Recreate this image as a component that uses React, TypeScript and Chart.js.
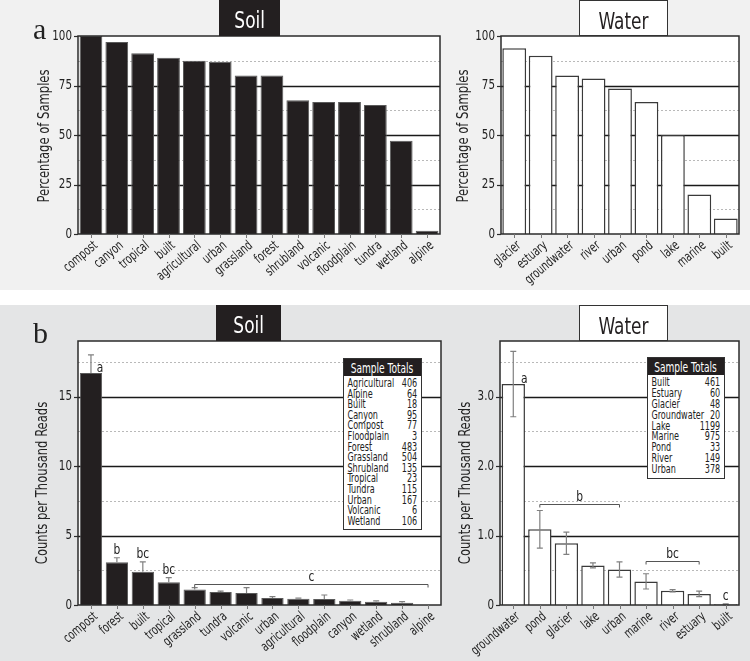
import React, { useEffect, useRef } from 'react';
import { Chart, registerables } from 'chart.js';
Chart.register(...registerables);

const NARROW = '"Liberation Sans Narrow", "DejaVu Sans Condensed", "Open Sans", sans-serif';
const SX = 0.78; // horizontal compression to mimic a condensed face

// ---------- Panel a: percentage of samples ----------
const soilACategories = ['compost', 'canyon', 'tropical', 'built', 'agricultural', 'urban', 'grassland', 'forest', 'shrubland', 'volcanic', 'floodplain', 'tundra', 'wetland', 'alpine'];
const soilAValues = [100, 97, 91.3, 89, 87.5, 87, 80, 80, 67.5, 66.7, 66.7, 65.2, 47.1, 1.6];
const waterACategories = ['glacier', 'estuary', 'groundwater', 'river', 'urban', 'pond', 'lake', 'marine', 'built'];
const waterAValues = [93.8, 90, 80, 78.5, 73.5, 66.7, 50, 20, 7.8];
const percentTicks = [0, 25, 50, 75, 100];

// ---------- Panel b: counts per thousand reads ----------
const soilBCategories = ['compost', 'forest', 'built', 'tropical', 'grassland', 'tundra', 'volcanic', 'urban', 'agricultural', 'floodplain', 'canyon', 'wetland', 'shrubland', 'alpine'];
const soilBValues = [16.7, 3.07, 2.4, 1.63, 1.12, 0.93, 0.86, 0.5, 0.45, 0.43, 0.31, 0.24, 0.16, 0];
const soilBErrors = [1.3, 0.33, 0.7, 0.34, 0.13, 0.07, 0.39, 0.1, 0.05, 0.29, 0.05, 0.06, 0.08, 0];
const soilBLetters = ['a', 'b', 'bc', 'bc', '', '', '', '', '', '', '', '', '', ''];
const soilBBrackets = [{ from: 4, to: 13, level: 1.54, label: 'c' }];
const soilBTicks = [0, 5, 10, 15];

const waterBCategories = ['groundwater', 'pond', 'glacier', 'lake', 'urban', 'marine', 'river', 'estuary', 'built'];
const waterBValues = [3.18, 1.09, 0.89, 0.57, 0.51, 0.34, 0.205, 0.16, 0.01];
const waterBErrors = [0.47, 0.27, 0.16, 0.035, 0.11, 0.11, 0.015, 0.04, 0.005];
const waterBLetters = ['a', '', '', '', '', '', '', '', 'c'];
const waterBBrackets = [
  { from: 1, to: 4, level: 1.45, label: 'b' },
  { from: 5, to: 7, level: 0.64, label: 'bc' },
];
const waterBTicks = [0, 1, 2, 3];

// ---------- Sample totals ----------
const soilTotalNames = ['Agricultural', 'Alpine', 'Built', 'Canyon', 'Compost', 'Floodplain', 'Forest', 'Grassland', 'Shrubland', 'Tropical', 'Tundra', 'Urban', 'Volcanic', 'Wetland'];
const soilTotalCounts = [406, 64, 18, 95, 77, 3, 483, 504, 135, 23, 115, 167, 6, 106];
const waterTotalNames = ['Built', 'Estuary', 'Glacier', 'Groundwater', 'Lake', 'Marine', 'Pond', 'River', 'Urban'];
const waterTotalCounts = [461, 60, 48, 20, 1199, 975, 33, 149, 378];

type Bracket = { from: number; to: number; level: number; label: string };
interface Spec {
  left: number; top: number; width: number; height: number;
  plotLeft: number; plotTop: number; plotRight: number; plotBottom: number;
  categories: string[]; values: number[];
  errors?: number[]; errorBoth?: boolean;
  yMax: number; major: number; minor: number; yTicks: number[]; fmt: (v: number) => string;
  fill: string; border: string; borderWidth: number; barPct: number;
  yTitle: string; yTitleX: number; yTitleY: number;
  letters?: string[]; brackets?: Bracket[];
}

function squeezeText(ctx: any, text: string, x: number, y: number, rot: number, align: string, base: string, sx: number) {
  ctx.save();
  ctx.translate(x, y);
  if (rot) ctx.rotate(rot);
  ctx.scale(sx, 1);
  ctx.textAlign = align;
  ctx.textBaseline = base;
  ctx.fillText(text, 0, 0);
  ctx.restore();
}

function makeDecor(s: Spec) {
  return {
    id: 'decor',
    beforeDraw(chart: any) {
      const { ctx, chartArea: a } = chart;
      ctx.save();
      ctx.fillStyle = '#ffffff';
      ctx.fillRect(a.left, a.top, a.right - a.left, a.bottom - a.top);
      ctx.restore();
    },
    beforeDatasetsDraw(chart: any) {
      const { ctx, chartArea: a } = chart;
      const y = chart.scales.y;
      ctx.save();
      const n = Math.round(s.yMax / s.minor);
      for (let k = 1; k <= n; k++) {
        const v = k * s.minor;
        if (v >= s.yMax - 1e-9) continue;
        const r = v / s.major;
        const isMajor = Math.abs(r - Math.round(r)) < 1e-6;
        const py = Math.round(y.getPixelForValue(v)) + 0.5;
        if (isMajor) {
          ctx.strokeStyle = '#1a1a1a'; ctx.lineWidth = 1.3; ctx.setLineDash([]);
        } else {
          ctx.strokeStyle = '#a8a8a8'; ctx.lineWidth = 0.8; ctx.setLineDash([2, 2]);
        }
        ctx.beginPath(); ctx.moveTo(a.left, py); ctx.lineTo(a.right, py); ctx.stroke();
      }
      ctx.restore();
    },
    afterDatasetsDraw(chart: any) {
      const { ctx, chartArea: a } = chart;
      const y = chart.scales.y;
      const x = chart.scales.x;
      const meta = chart.getDatasetMeta(0);
      ctx.save();
      // error bars
      if (s.errors) {
        ctx.strokeStyle = '#808080'; ctx.lineWidth = 1.2; ctx.setLineDash([]);
        s.errors.forEach((e, i) => {
          if (!e) return;
          const bx = meta.data[i].x;
          const v = s.values[i];
          const t = y.getPixelForValue(v + e);
          const b = s.errorBoth ? y.getPixelForValue(v - e) : y.getPixelForValue(v);
          const cap = 3;
          ctx.beginPath();
          ctx.moveTo(bx, t); ctx.lineTo(bx, b);
          ctx.moveTo(bx - cap, t); ctx.lineTo(bx + cap, t);
          if (s.errorBoth) { ctx.moveTo(bx - cap, b); ctx.lineTo(bx + cap, b); }
          ctx.stroke();
        });
      }
      // frame
      ctx.strokeStyle = '#2b2b2b'; ctx.lineWidth = 1.5;
      ctx.strokeRect(a.left, a.top, a.right - a.left, a.bottom - a.top);
      // y ticks
      ctx.lineWidth = 1.2;
      s.yTicks.forEach((v) => {
        const py = Math.round(y.getPixelForValue(v)) + 0.5;
        ctx.beginPath(); ctx.moveTo(a.left - 4, py); ctx.lineTo(a.left, py); ctx.stroke();
      });
      // x ticks
      ctx.strokeStyle = '#777'; ctx.lineWidth = 1;
      s.categories.forEach((_c, i) => {
        const px = Math.round(x.getPixelForValue(i)) + 0.5;
        ctx.beginPath(); ctx.moveTo(px, a.bottom); ctx.lineTo(px, a.bottom + 4); ctx.stroke();
      });
      // significance letters
      ctx.fillStyle = '#222';
      ctx.font = `14px ${NARROW}`;
      if (s.letters) {
        s.letters.forEach((l, i) => {
          if (!l) return;
          const bx = meta.data[i].x;
          const v = s.values[i];
          const e = s.errors ? s.errors[i] : 0;
          if (i === 0) {
            squeezeText(ctx, l, bx + (s.errorBoth ? 11 : 9), y.getPixelForValue(v) - 1, 0, 'center', 'alphabetic', 0.85);
          } else {
            squeezeText(ctx, l, bx, y.getPixelForValue(v + e) - 4, 0, 'center', 'alphabetic', 0.85);
          }
        });
      }
      if (s.brackets) {
        ctx.strokeStyle = '#555'; ctx.lineWidth = 1;
        s.brackets.forEach((br) => {
          const x1 = meta.data[br.from].x;
          const x2 = meta.data[br.to].x;
          const py = Math.round(y.getPixelForValue(br.level)) + 0.5;
          ctx.beginPath();
          ctx.moveTo(x1, py + 3); ctx.lineTo(x1, py); ctx.lineTo(x2, py); ctx.lineTo(x2, py + 3);
          ctx.stroke();
          squeezeText(ctx, br.label, (x1 + x2) / 2, py - 4, 0, 'center', 'alphabetic', 0.85);
        });
      }
      ctx.restore();
    },
    afterDraw(chart: any) {
      const { ctx, chartArea: a } = chart;
      const y = chart.scales.y;
      const x = chart.scales.x;
      ctx.save();
      ctx.fillStyle = '#222';
      // y tick labels
      ctx.font = `13.5px ${NARROW}`;
      s.yTicks.forEach((v) => {
        squeezeText(ctx, s.fmt(v), a.left - 6, y.getPixelForValue(v), 0, 'right', 'middle', 0.85);
      });
      // x tick labels (rotated)
      ctx.font = `13.5px ${NARROW}`;
      s.categories.forEach((c, i) => {
        const px = x.getPixelForValue(i);
        squeezeText(ctx, c, px + 5, a.bottom + 10, -40 * Math.PI / 180, 'right', 'middle', 0.76);
      });
      // y title
      ctx.font = `16.5px ${NARROW}`;
      squeezeText(ctx, s.yTitle, s.yTitleX - s.left, s.yTitleY - s.top, -Math.PI / 2, 'center', 'middle', SX);
      ctx.restore();
    },
  };
}

function BarPanel({ spec }: { spec: Spec }) {
  const ref = useRef<HTMLCanvasElement | null>(null);
  useEffect(() => {
    const s = spec;
    const chart = new Chart(ref.current as HTMLCanvasElement, {
      type: 'bar',
      data: {
        labels: s.categories,
        datasets: [{
          data: s.values,
          backgroundColor: s.fill,
          borderColor: s.border,
          borderWidth: s.borderWidth,
          barPercentage: s.barPct,
          categoryPercentage: 1,
        }],
      },
      options: {
        responsive: false,
        animation: false,
        events: [],
        layout: { padding: { top: s.plotTop - s.top, right: s.left + s.width - s.plotRight, left: 0, bottom: 0 } },
        plugins: { legend: { display: false }, tooltip: { enabled: false } },
        scales: {
          x: {
            grid: { display: false, drawTicks: false },
            border: { display: false },
            ticks: { display: false },
            afterFit: (sc: any) => { sc.height = s.top + s.height - s.plotBottom; },
          },
          y: {
            min: 0, max: s.yMax,
            grid: { display: false, drawTicks: false },
            border: { display: false },
            ticks: { display: false, stepSize: s.major, includeBounds: false },
            afterFit: (sc: any) => { sc.width = s.plotLeft - s.left; },
          },
        },
      },
      plugins: [makeDecor(s)],
    } as any);
    return () => chart.destroy();
  }, [spec]);
  return (
    <canvas
      ref={ref}
      width={spec.width}
      height={spec.height}
      style={{ position: 'absolute', left: spec.left, top: spec.top, width: spec.width, height: spec.height }}
    />
  );
}

function Totals({ left, top, width, rowH, names, counts }: { left: number; top: number; width: number; rowH: number; names: string[]; counts: number[] }) {
  const k = 0.7;
  const innerW = width - 3;
  return (
    <div style={{ position: 'absolute', left, top, width, background: '#fff', border: '1.5px solid #333', boxSizing: 'border-box', fontFamily: NARROW, color: '#222', overflow: 'hidden' }}>
      <div style={{ background: '#231f20', height: 17, position: 'relative' }}>
        <div style={{ position: 'absolute', left: 0, top: 0, width: innerW / 0.72, transform: 'scaleX(0.72)', transformOrigin: 'left top', color: '#fff', fontSize: 14, lineHeight: '18px', textAlign: 'center', whiteSpace: 'nowrap' }}>Sample Totals</div>
      </div>
      <div style={{ padding: '2px 0 3px 0', height: names.length * rowH, position: 'relative', boxSizing: 'content-box' }}>
        <div style={{ position: 'absolute', left: 0, top: 2, width: innerW / k, transform: `scaleX(${k})`, transformOrigin: 'left top', padding: '0 4px 0 5px', boxSizing: 'border-box' }}>
          {names.map((n, i) => (
            <div key={n} style={{ display: 'flex', justifyContent: 'space-between', fontSize: 12.8, height: rowH, lineHeight: `${rowH}px`, whiteSpace: 'nowrap' }}>
              <span>{n}</span><span>{counts[i]}</span>
            </div>
          ))}
        </div>
      </div>
    </div>
  );
}

function TitleBox({ left, top, width, text, dark }: { left: number; top: number; width: number; text: string; dark: boolean }) {
  return (
    <div style={{
      position: 'absolute', left, top, width, height: 36, boxSizing: 'border-box',
      background: dark ? '#231f20' : '#fff', color: dark ? '#fff' : '#231f20',
      border: dark ? 'none' : '1.5px solid #333',
      fontFamily: NARROW, fontSize: 23, textAlign: 'center', lineHeight: '40px',
    }}>
      <span style={{ display: 'inline-block', transform: 'scaleX(0.82)' }}>{text}</span>
    </div>
  );
}

const intFmt = (v: number) => (percentTicks.includes(v) ? String(v) : '');

const specs: Spec[] = [
  {
    left: 0, top: 0, width: 450, height: 290, plotLeft: 78, plotTop: 36, plotRight: 440, plotBottom: 234,
    categories: soilACategories, values: soilAValues, yMax: 100, major: 25, minor: 12.5, yTicks: percentTicks, fmt: intFmt,
    fill: '#231f20', border: '#5a5a5a', borderWidth: 1, barPct: 0.88,
    yTitle: 'Percentage of Samples', yTitleX: 45, yTitleY: 136,
  },
  {
    left: 450, top: 0, width: 300, height: 290, plotLeft: 501, plotTop: 36, plotRight: 739, plotBottom: 234,
    categories: waterACategories, values: waterAValues, yMax: 100, major: 25, minor: 12.5, yTicks: percentTicks, fmt: intFmt,
    fill: '#ffffff', border: '#3a3a3a', borderWidth: 1.5, barPct: 0.9,
    yTitle: 'Percentage of Samples', yTitleX: 464, yTitleY: 136,
  },
  {
    left: 0, top: 305, width: 450, height: 356, plotLeft: 78, plotTop: 341, plotRight: 441, plotBottom: 605,
    categories: soilBCategories, values: soilBValues, errors: soilBErrors, errorBoth: false,
    yMax: 19, major: 5, minor: 2.5, yTicks: soilBTicks, fmt: (v) => String(v),
    fill: '#231f20', border: '#5a5a5a', borderWidth: 1, barPct: 0.86,
    yTitle: 'Counts per Thousand Reads', yTitleX: 43, yTitleY: 483,
    letters: soilBLetters, brackets: soilBBrackets,
  },
  {
    left: 450, top: 305, width: 300, height: 356, plotLeft: 500, plotTop: 341, plotRight: 739, plotBottom: 605,
    categories: waterBCategories, values: waterBValues, errors: waterBErrors, errorBoth: true,
    yMax: 3.8, major: 1, minor: 0.5, yTicks: waterBTicks, fmt: (v) => (v === 0 ? '0' : v.toFixed(1)),
    fill: '#ffffff', border: '#3a3a3a', borderWidth: 1.5, barPct: 0.88,
    yTitle: 'Counts per Thousand Reads', yTitleX: 466, yTitleY: 483,
    letters: waterBLetters, brackets: waterBBrackets,
  },
];

export default function App() {
  return (
    <div style={{ position: 'absolute', left: 0, top: 0, width: 750, height: 661, background: '#fff', overflow: 'hidden' }}>
      <div style={{ position: 'absolute', left: 0, top: 0, width: 750, height: 290, background: '#f1f1f1' }} />
      <div style={{ position: 'absolute', left: 0, top: 305, width: 750, height: 356, background: '#e4e5e6' }} />
      {specs.map((s, i) => <BarPanel key={i} spec={s} />)}
      <TitleBox left={219} top={0} width={61} text="Soil" dark />
      <TitleBox left={579} top={0} width={89} text="Water" dark={false} />
      <TitleBox left={216} top={305} width={65} text="Soil" dark />
      <TitleBox left={579} top={305} width={89} text="Water" dark={false} />
      <div style={{ position: 'absolute', left: 33, top: 12, fontFamily: '"Liberation Serif", "DejaVu Serif", serif', fontSize: 30, lineHeight: '34px', color: '#222' }}>a</div>
      <div style={{ position: 'absolute', left: 33, top: 316, fontFamily: '"Liberation Serif", "DejaVu Serif", serif', fontSize: 30, lineHeight: '34px', color: '#222' }}>b</div>
      <Totals left={343} top={358} width={79} rowH={10.6} names={soilTotalNames} counts={soilTotalCounts} />
      <Totals left={647} top={357} width={78} rowH={10.9} names={waterTotalNames} counts={waterTotalCounts} />
    </div>
  );
}
